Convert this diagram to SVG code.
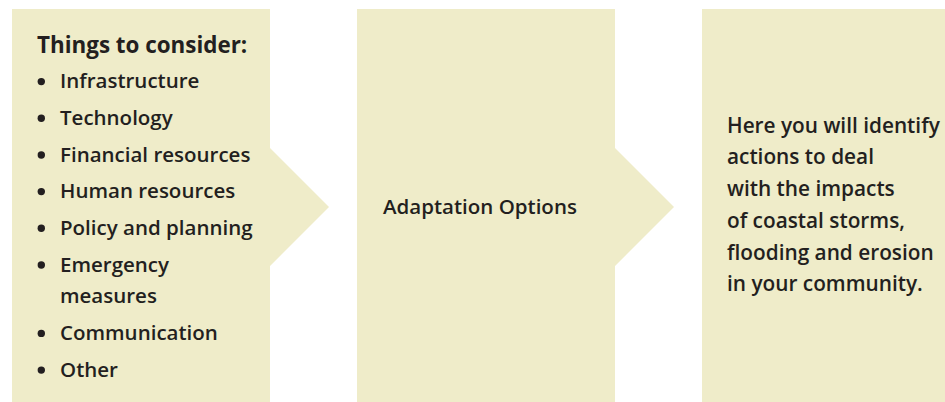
<svg xmlns="http://www.w3.org/2000/svg" width="945" height="402" viewBox="0 0 945 402">
<style>
.box{fill:#efecc9;stroke:none}
.t{font-family:"Open Sans","Noto Sans","Liberation Sans",sans-serif;font-weight:600;fill:#231f20;font-size:20.5px}
.h{font-weight:700;font-size:22.4px}
.r{font-size:20.8px}
.dot{fill:#231f20}
</style>
<rect width="945" height="402" fill="#ffffff"/>
<g id="node-considerations">
<path class="box" d="M12,9 H270 V148 L329,207 L270,266 V402 H12 Z"/>
<text class="t h" x="37" y="53.3">Things to consider:</text>
<g class="dot">
<circle cx="41.3" cy="81.6" r="3.7"/>
<circle cx="41.3" cy="118.3" r="3.7"/>
<circle cx="41.3" cy="155" r="3.7"/>
<circle cx="41.3" cy="191.6" r="3.7"/>
<circle cx="41.3" cy="228.3" r="3.7"/>
<circle cx="41.3" cy="265" r="3.7"/>
<circle cx="41.3" cy="333.4" r="3.7"/>
<circle cx="41.3" cy="370.1" r="3.7"/>
</g>
<text class="t" x="60" y="88.3">Infrastructure</text>
<text class="t" x="60" y="125">Technology</text>
<text class="t" x="60" y="161.7">Financial resources</text>
<text class="t" x="60" y="198.3">Human resources</text>
<text class="t" x="60" y="235">Policy and planning</text>
<text class="t" x="60" y="271.7">Emergency</text>
<text class="t" x="60" y="303.4">measures</text>
<text class="t" x="60" y="340.1">Communication</text>
<text class="t" x="60" y="376.8">Other</text>
</g>
<g id="node-adaptation">
<path class="box" d="M357,9 H615 V148 L674,207 L615,266 V402 H357 Z"/>
<text class="t" x="383" y="214">Adaptation Options</text>
</g>
<g id="node-description">
<rect class="box" x="702" y="9" width="243" height="393"/>
<text class="t r" x="727" y="132.7">Here you will identify</text>
<text class="t r" x="727" y="164.4">actions to deal</text>
<text class="t r" x="727" y="196.1">with the impacts</text>
<text class="t r" x="727" y="227.8">of coastal storms,</text>
<text class="t r" x="727" y="259.5">flooding and erosion</text>
<text class="t r" x="727" y="291.2">in your community.</text>
</g>
<g id="connectors"></g>
</svg>
